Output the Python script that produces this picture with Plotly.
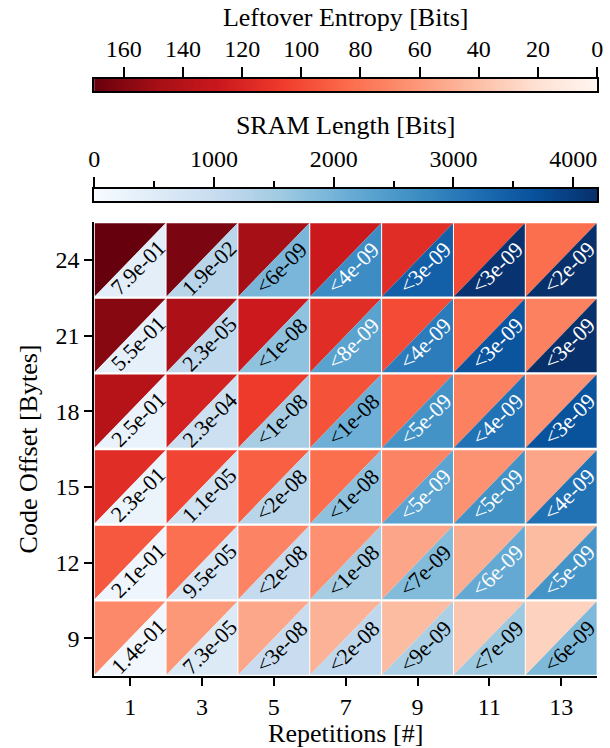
import numpy as np
import plotly.graph_objects as go
from plotly.colors import sample_colorscale, sequential

# ---------------- data ----------------
repetitions = [1, 3, 5, 7, 9, 11, 13]
code_offsets = [9, 12, 15, 18, 21, 24]

# leftover entropy [bits], rows follow code_offsets
entropy_off9 = [68, 61, 53, 47, 42, 36, 29]
entropy_off12 = [93, 82, 71, 65, 54, 49, 42]
entropy_off15 = [115, 102, 90, 83, 71, 64, 54]
entropy_off18 = [139, 122, 107, 96, 85, 73, 63]
entropy_off21 = [159, 144, 127, 115, 99, 85, 73]
entropy_off24 = [170, 163, 148, 128, 115, 99, 83]

# SRAM length [bits]
sram_off9 = [126, 565, 970, 1140, 1400, 1575, 1895]
sram_off12 = [190, 700, 1075, 1470, 1850, 2200, 2590]
sram_off15 = [250, 800, 1235, 1740, 2300, 2625, 3150]
sram_off18 = [273, 900, 1470, 2080, 2600, 3130, 3650]
sram_off21 = [357, 1115, 1730, 2315, 2975, 3615, 4200]
sram_off24 = [420, 1220, 1945, 2700, 3430, 4150, 4200]

# failure probability labels
labels_off9 = ["1.4e-01", "7.3e-05", "<3e-08", "<2e-08", "<9e-09", "<7e-09", "<6e-09"]
labels_off12 = ["2.1e-01", "9.5e-05", "<2e-08", "<1e-08", "<7e-09", "<6e-09", "<5e-09"]
labels_off15 = ["2.3e-01", "1.1e-05", "<2e-08", "<1e-08", "<5e-09", "<5e-09", "<4e-09"]
labels_off18 = ["2.5e-01", "2.3e-04", "<1e-08", "<1e-08", "<5e-09", "<4e-09", "<3e-09"]
labels_off21 = ["5.5e-01", "2.3e-05", "<1e-08", "<8e-09", "<4e-09", "<3e-09", "<3e-09"]
labels_off24 = ["7.9e-01", "1.9e-02", "<6e-09", "<4e-09", "<3e-09", "<3e-09", "<2e-09"]

entropy_ticks = [0, 20, 40, 60, 80, 100, 120, 140, 160]
sram_ticks = [0, 1000, 2000, 3000, 4000]
sram_minor_ticks = [500, 1500, 2500, 3500]

ENT_MAX = 170
SRAM_MAX = 4200

entropy = [entropy_off9, entropy_off12, entropy_off15, entropy_off18, entropy_off21, entropy_off24]
sram = [sram_off9, sram_off12, sram_off15, sram_off18, sram_off21, sram_off24]
labels = [labels_off9, labels_off12, labels_off15, labels_off18, labels_off21, labels_off24]

REDS = sequential.Reds
BLUES = sequential.Blues

FONT = "Liberation Serif"
W, H = 610, 748

fig = go.Figure()

half_w, half_h = 1.0, 1.5
xr = [0, 14]
yr = [7.5, 25.5]
px_x = (xr[1] - xr[0]) / (603 - 90)
px_y = (yr[1] - yr[0]) / (676 - 222)
gap_x = 0.5 * px_x
gap_y = 1.2 * px_y

for i, off in enumerate(code_offsets):
    for j, rep in enumerate(repetitions):
        e = entropy[i][j]
        s = sram[i][j]
        x0, x1 = rep - half_w + gap_x, rep + half_w - gap_x
        y0, y1 = off - half_h + gap_y, off + half_h - gap_y
        rc = sample_colorscale(REDS, [min(e / ENT_MAX, 1)])[0]
        bc = sample_colorscale(BLUES, [min(s / SRAM_MAX, 1)])[0]
        fig.add_trace(go.Scatter(x=[x0, x0, x1, x0], y=[y0, y1, y1, y0], mode="lines",
                                 fill="toself", fillcolor=rc, line=dict(width=0, color=rc),
                                 hoverinfo="skip", showlegend=False))
        fig.add_trace(go.Scatter(x=[x0, x1, x1, x0], y=[y0, y0, y1, y0], mode="lines",
                                 fill="toself", fillcolor=bc, line=dict(width=0, color=bc),
                                 hoverinfo="skip", showlegend=False))
        fig.add_annotation(x=rep, y=off, xref="x", yref="y", text=labels[i][j],
                           showarrow=False, textangle=-45, xshift=8, yshift=-8,
                           font=dict(family=FONT, size=22,
                                     color="white" if s > SRAM_MAX / 2 else "black"))

# colour bars drawn as gradient strips on their own axes
ent_ramp = np.linspace(0, ENT_MAX, 341)
sram_ramp = np.linspace(0, SRAM_MAX, 421)
fig.add_trace(go.Heatmap(x=ent_ramp, y=[0.5], z=[ent_ramp], colorscale=REDS, zmin=0, zmax=ENT_MAX,
                         showscale=False, xaxis="x2", yaxis="y2", hoverinfo="skip"))
fig.add_trace(go.Heatmap(x=sram_ramp, y=[0.5], z=[sram_ramp], colorscale=BLUES, zmin=0, zmax=SRAM_MAX,
                         showscale=False, xaxis="x3", yaxis="y3", hoverinfo="skip"))

xd = [90 / W, 603 / W]
def ydom(top, bottom):
    return [(H - bottom) / H, (H - top) / H]

tickfont = dict(family=FONT, size=24, color="black")
titlefont = dict(family=FONT, size=26, color="black")

fig.update_layout(
    width=W, height=H, margin=dict(l=0, r=0, t=0, b=0),
    paper_bgcolor="white", plot_bgcolor="white",
    showlegend=False,
    xaxis=dict(domain=xd, range=xr, tickmode="array", tickvals=repetitions,
               ticktext=[str(r) for r in repetitions], ticks="outside", ticklen=8, tickwidth=2,
               tickcolor="black", showline=True, linewidth=2, linecolor="black",
               showgrid=False, zeroline=False, tickfont=tickfont,
               title=dict(text="Repetitions [#]", font=titlefont, standoff=6)),
    yaxis=dict(domain=ydom(222, 676), range=yr, tickmode="array", tickvals=code_offsets,
               ticktext=[str(o) for o in code_offsets], ticks="outside", ticklen=8, tickwidth=2,
               tickcolor="black", showline=True, linewidth=2, linecolor="black",
               showgrid=False, zeroline=False, tickfont=tickfont,
               title=dict(text="Code Offset [Bytes]", font=titlefont, standoff=10)),
    xaxis2=dict(domain=xd, anchor="y2", range=[ENT_MAX, 0], side="top", tickmode="array",
                tickvals=entropy_ticks, ticks="outside", ticklen=10, tickwidth=2, tickcolor="black",
                showline=True, mirror=True, linewidth=2, linecolor="black", showgrid=False,
                zeroline=False, tickfont=tickfont,
                title=dict(text="Leftover Entropy [Bits]", font=titlefont, standoff=2)),
    yaxis2=dict(domain=ydom(79, 91), anchor="x2", range=[0, 1], showticklabels=False, ticks="",
                showline=True, mirror=True, linewidth=2, linecolor="black", showgrid=False,
                zeroline=False),
    xaxis3=dict(domain=xd, anchor="y3", range=[0, SRAM_MAX], side="top", tickmode="array",
                tickvals=sram_ticks, ticks="outside", ticklen=10, tickwidth=2, tickcolor="black",
                minor=dict(tickmode="array", tickvals=sram_minor_ticks, ticks="outside",
                           ticklen=6, tickwidth=1.5, tickcolor="black", showgrid=False),
                showline=True, mirror=True, linewidth=2, linecolor="black", showgrid=False,
                zeroline=False, tickfont=tickfont,
                title=dict(text="SRAM Length [Bits]", font=titlefont, standoff=4)),
    yaxis3=dict(domain=ydom(189, 201), anchor="x3", range=[0, 1], showticklabels=False, ticks="",
                showline=True, mirror=True, linewidth=2, linecolor="black", showgrid=False,
                zeroline=False),
)

fig.write_html("out.html", config={"displayModeBar": False},
               post_script="document.body.style.margin='0px';document.body.style.overflow='hidden';")
